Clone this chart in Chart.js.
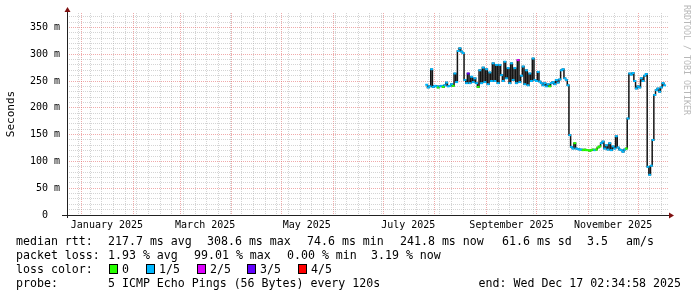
<!DOCTYPE html>
<html>
<head>
<meta charset="utf-8">
<script src="https://cdn.jsdelivr.net/npm/chart.js@4/dist/chart.umd.min.js"></script>
<style>
  html, body { margin: 0; padding: 0; background: #fff; }
  #wrap { position: relative; width: 697px; height: 297px; overflow: hidden; background: #fff; }
  #c { position: absolute; left: 0; top: 0; }
  .t { position: absolute; font-family: 'DejaVu Sans Mono', monospace; font-size: 11.6px; line-height: 14px; white-space: pre; color: #000; }
  .sw { position: absolute; top: 264px; width: 7px; height: 8px; border: 1px solid #000; }
  #mark { position: absolute; left: 682px; top: 5px; writing-mode: vertical-rl; font-family: 'DejaVu Sans Mono', monospace; font-size: 8.3px; color: #b8b8b8; white-space: pre; }
</style>
</head>
<body>
<div id="wrap">
  <canvas id="c" width="697" height="297"></canvas>
  <div id="mark">RRDTOOL / TOBI OETIKER</div>
  <div id="legend"></div>
</div>
<script>
"use strict";

// days counted from 1 Jan 2025
const firstDay = 207;
const medianMs = [
  243, 238, 240, 272, 239, 241, 240, 238, 240, 241,
  239, 242, 247, 240, 241, 244, 241, 264, 248, 306,
  311, 305, 302, 252, 246, 264, 246, 258, 248, 255,
  246, 239, 270, 246, 275, 248, 272, 244, 266, 250,
  283, 250, 280, 246, 280, 261, 250, 286, 255, 274,
  246, 283, 252, 274, 246, 289, 248, 260, 277, 244,
  270, 242, 264, 250, 292, 252, 250, 267, 249, 246,
  242, 246, 240, 244, 240, 246, 248, 244, 252, 247,
  253, 270, 272, 255, 252, 242, 149, 127, 124, 134,
  124, 123, 122, 122, 121, 122, 121, 121, 120, 121,
  122, 121, 122, 126, 128, 134, 137, 124, 130, 122,
  134, 121, 128, 124, 147, 126, 122, 121, 118, 122,
  124, 180, 264, 262, 265, 250, 236, 240, 238, 255,
  250, 260, 263, 90, 75, 92, 140, 224, 233, 236,
  230, 238, 246, 242
];
// lost pings out of 5 for each median
const lossIdx = [
  1, 1, 1, 1, 1, 1, 1, 0, 1, 1,
  0, 1, 1, 1, 1, 1, 0, 1, 1, 1,
  1, 1, 1, 1, 1, 3, 1, 1, 1, 1,
  1, 0, 1, 1, 1, 1, 1, 1, 1, 1,
  1, 1, 1, 1, 1, 1, 1, 1, 1, 1,
  1, 1, 1, 1, 1, 2, 1, 1, 1, 1,
  1, 1, 1, 1, 1, 1, 1, 1, 1, 1,
  1, 1, 1, 1, 0, 1, 1, 1, 1, 1,
  1, 1, 1, 1, 1, 1, 1, 1, 1, 0,
  1, 1, 1, 1, 0, 0, 0, 0, 0, 0,
  0, 1, 0, 0, 0, 1, 1, 1, 1, 1,
  1, 1, 1, 1, 1, 1, 1, 1, 1, 1,
  0, 1, 1, 1, 1, 1, 1, 1, 1, 1,
  1, 1, 1, 1, 1, 1, 1, 1, 1, 1,
  1, 1, 1, 1
];
const lossLabels = ["0", "1/5", "2/5", "3/5", "4/5"];
const lossColors = ["#26ff00", "#00b8ff", "#dd00ff", "#6200ff", "#ff0000"];

const monthStarts = [0, 31, 59, 90, 120, 151, 181, 212, 243, 273, 304, 334];
const labelDays = [15, 74, 135, 196, 258, 319];
const monthLabels = ["January 2025", "March 2025", "May 2025", "July 2025", "September 2025", "November 2025"];
const weekStarts = [];
for (let d = -9; d <= 352; d += 7) weekStarts.push(d);
const yGridMs = [];
for (let v = 0; v <= 370; v += 10) yGridMs.push(v);

// legend lines, each piece with its left edge
const rttLine = [
  [16, "median rtt:"], [108, "217.7 ms avg"], [207, "308.6 ms max"], [307, "74.6 ms min"],
  [400, "241.8 ms now"], [502, "61.6 ms sd"], [587, "3.5"], [626, "am/s"]
];
const lossLine = [
  [16, "packet loss:"], [108, "1.93 % avg"], [194, "99.01 % max"], [287, "0.00 % min"], [371, "3.19 % now"]
];
const probeText = "5 ICMP Echo Pings (56 Bytes) every 120s";
const endText = "end: Wed Dec 17 02:34:58 2025";

const xMin = -9, xMax = 352;
const yMax = 0.3769;

const gridColor = "rgba(160,160,160,0.45)";
const mgridColor = "rgba(228,100,100,0.55)";
const monoFont = {family: "'DejaVu Sans Mono', monospace", size: 10};

const legend = document.getElementById("legend");
function addText(left, top, text) {
  const el = document.createElement("div");
  el.className = "t";
  el.style.left = left + "px";
  el.style.top = top + "px";
  el.textContent = text;
  legend.appendChild(el);
  return el;
}
rttLine.forEach(p => addText(p[0], 234, p[1]));
lossLine.forEach(p => addText(p[0], 248, p[1]));
addText(16, 262, "loss color:");
const keyLeft = [109, 146, 197, 247, 298];
for (let i = 0; i < lossLabels.length; i++) {
  const sw = document.createElement("div");
  sw.className = "sw";
  sw.style.left = keyLeft[i] + "px";
  sw.style.background = lossColors[i];
  legend.appendChild(sw);
  addText(keyLeft[i] + 13, 262, lossLabels[i]);
}
addText(16, 276, "probe:");
addText(108, 276, probeText);
const endEl = addText(0, 276, endText);
endEl.style.left = "auto";
endEl.style.right = "16px";

const points = medianMs.map((v, i) => ({x: firstDay + i, y: v / 1000}));

const xTicks = [...new Set([...weekStarts, ...monthStarts, ...labelDays])].sort((a, b) => a - b);

const axisArrows = {
  id: "axisArrows",
  afterDraw(chart) {
    const {ctx, chartArea: a} = chart;
    const x0 = Math.round(a.left) + 0.5;
    const y0 = Math.round(a.bottom) + 0.5;
    ctx.save();
    ctx.strokeStyle = "#212121";
    ctx.lineWidth = 1;
    ctx.beginPath();
    ctx.moveTo(a.left - 5, y0);
    ctx.lineTo(a.right + 2, y0);
    ctx.moveTo(x0, a.bottom + 3);
    ctx.lineTo(x0, a.top - 2);
    ctx.stroke();
    ctx.fillStyle = "#7f1010";
    ctx.beginPath();
    ctx.moveTo(a.right + 1, y0 - 3);
    ctx.lineTo(a.right + 6, y0);
    ctx.lineTo(a.right + 1, y0 + 3);
    ctx.closePath();
    ctx.fill();
    ctx.beginPath();
    ctx.moveTo(x0 - 3, a.top - 1);
    ctx.lineTo(x0, a.top - 6);
    ctx.lineTo(x0 + 3, a.top - 1);
    ctx.closePath();
    ctx.fill();
    ctx.restore();
  }
};

new Chart(document.getElementById("c"), {
  type: "line",
  data: {
    datasets: [
      {
        data: points,
        showLine: false,
        pointStyle: "line",
        pointRadius: 1.4,
        pointBorderWidth: 2,
        pointBorderColor: lossIdx.map(i => lossColors[i]),
        pointBackgroundColor: lossIdx.map(i => lossColors[i])
      },
      {
        data: points,
        stepped: "middle",
        borderColor: "#141414",
        borderWidth: 1.5,
        pointRadius: 0
      }
    ]
  },
  options: {
    responsive: false,
    animation: false,
    devicePixelRatio: 1,
    events: [],
    layout: {padding: {left: 0, top: 13, right: 29, bottom: 65}},
    plugins: {legend: {display: false}, tooltip: {enabled: false}},
    scales: {
      x: {
        type: "linear",
        min: xMin,
        max: xMax,
        afterBuildTicks: s => { s.ticks = xTicks.map(v => ({value: v})); },
        afterFit: s => { s.height = 17; },
        grid: {
          drawTicks: false,
          color: c => {
            const v = c.tick ? c.tick.value : null;
            if (monthStarts.includes(v)) return mgridColor;
            if (labelDays.includes(v)) return "rgba(0,0,0,0)";
            return gridColor;
          }
        },
        border: {display: false, dash: [1, 1]},
        ticks: {
          autoSkip: false,
          maxRotation: 0,
          minRotation: 0,
          padding: 4,
          color: "#000",
          font: monoFont,
          callback: v => {
            const k = labelDays.indexOf(v);
            return k >= 0 ? monthLabels[k] : "";
          }
        }
      },
      y: {
        min: 0,
        max: yMax,
        afterBuildTicks: s => { s.ticks = yGridMs.map(v => ({value: v / 1000})); },
        afterFit: s => { s.width = 67; },
        grid: {
          drawTicks: false,
          color: c => {
            const ms = c.tick ? Math.round(c.tick.value * 1000) : 1;
            return ms % 50 === 0 ? mgridColor : gridColor;
          }
        },
        border: {display: false, dash: [1, 1]},
        ticks: {
          autoSkip: false,
          padding: 7,
          color: "#000",
          font: monoFont,
          callback: v => {
            const ms = Math.round(v * 1000);
            if (ms % 50 !== 0) return "";
            return ms === 0 ? "0  " : ms + " m";
          }
        },
        title: {
          display: true,
          text: "Seconds",
          color: "#000",
          font: {family: "'DejaVu Sans Mono', monospace", size: 11},
          padding: {top: 5, bottom: 0}
        }
      }
    }
  },
  plugins: [axisArrows]
});
</script>
</body>
</html>
